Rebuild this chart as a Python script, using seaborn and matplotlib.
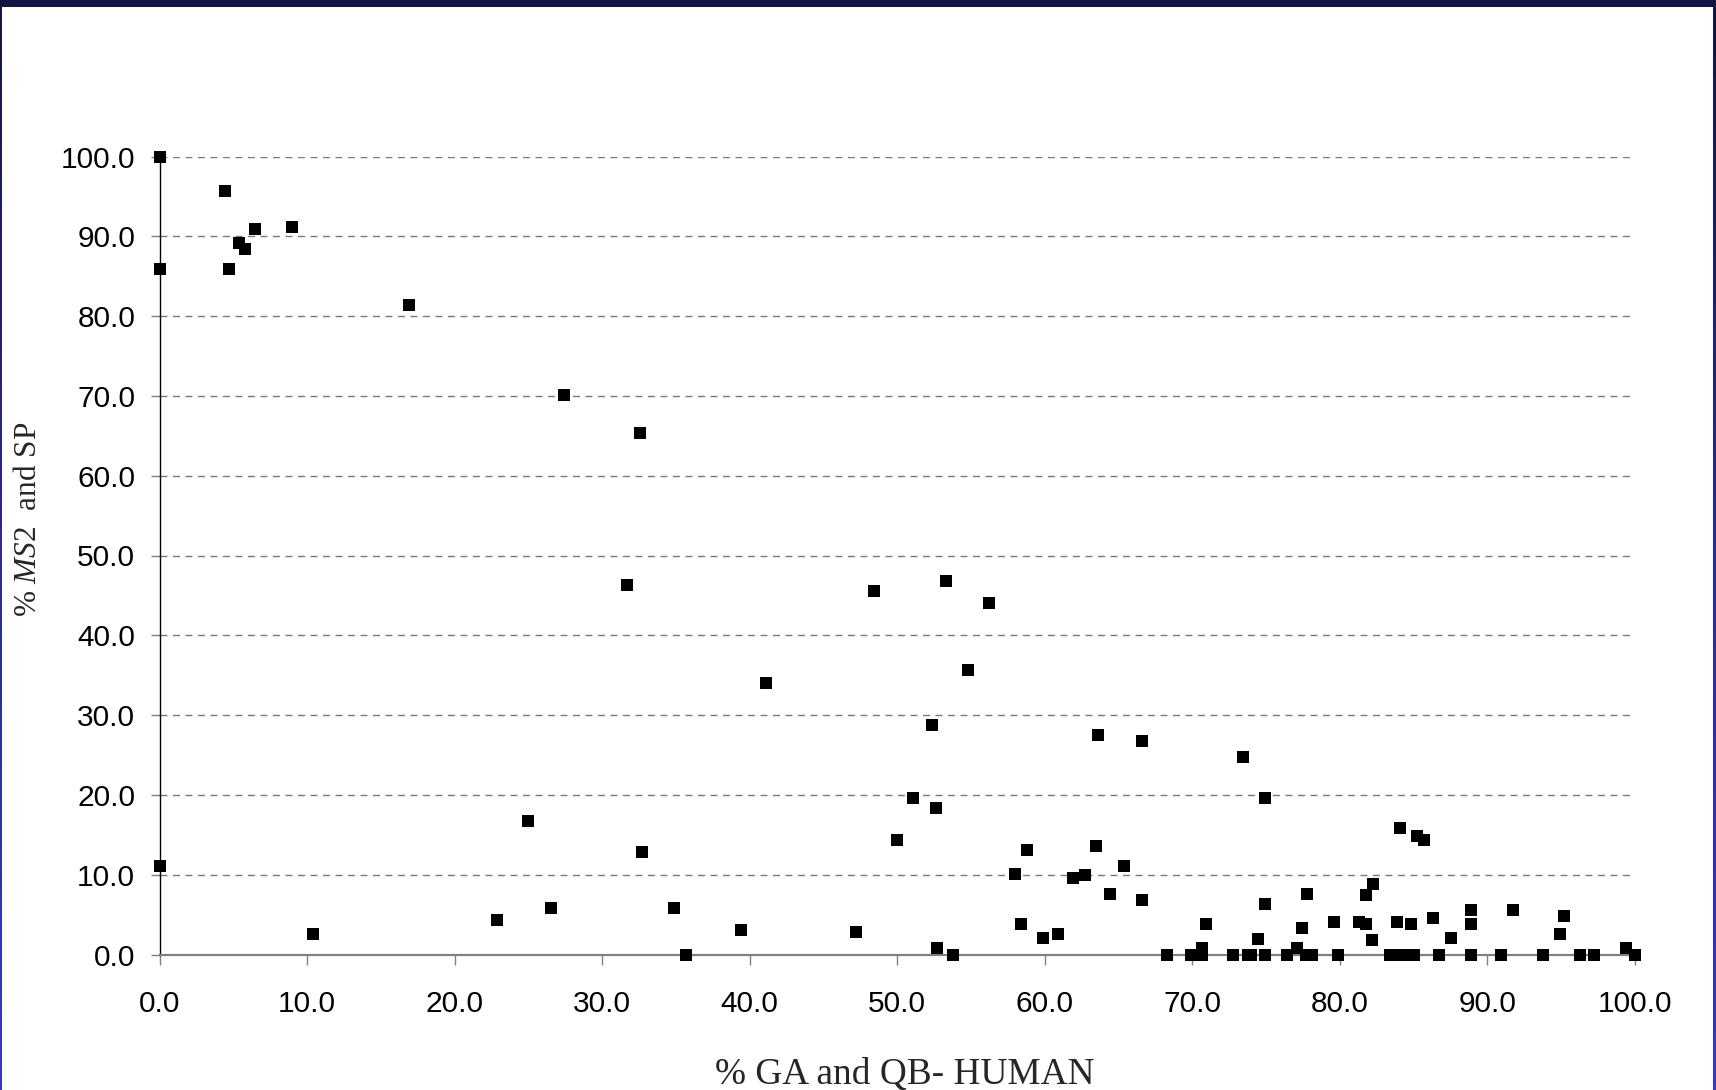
import numpy as np
import pandas as pd
import matplotlib
matplotlib.use("Agg")
import matplotlib.pyplot as plt
from matplotlib.patches import Rectangle
from matplotlib.ticker import FormatStrFormatter
from matplotlib.colors import LinearSegmentedColormap
import seaborn as sns

# ---- data ----
x_vals = [0, 0, 0, 4.45, 4.7, 5.4, 5.8, 6.5, 8.95, 10.4, 16.9, 22.9, 24.95, 26.5,
          27.4, 31.7, 32.55, 32.7, 34.85, 35.7, 39.4, 41.1, 47.2, 48.4, 50.0, 51.1,
          52.35, 52.6, 52.7, 53.3, 53.8, 54.8, 56.2, 57.95, 58.4, 58.8, 59.9, 60.9,
          61.9, 62.7, 63.45, 63.6, 64.45, 65.4, 66.6, 66.6, 68.3, 69.9, 70.65, 70.65,
          70.9, 72.75, 73.4, 73.8, 73.95, 74.45, 74.95, 74.95, 74.95, 76.4, 77.1, 77.4,
          77.7, 77.75, 78.1, 79.6, 79.9, 81.3, 81.8, 81.8, 82.2, 82.25, 83.4, 83.9,
          84.1, 84.2, 84.8, 85.0, 85.2, 85.7, 86.3, 86.7, 87.5, 88.9, 88.9, 88.9,
          90.95, 91.7, 93.75, 94.9, 95.2, 96.3, 97.2, 99.4, 100.0]
y_vals = [100, 85.9, 11.1, 95.7, 85.9, 89.2, 88.4, 90.9, 91.2, 2.6, 81.4, 4.3, 16.7, 5.8,
          70.1, 46.3, 65.3, 12.9, 5.8, 0, 3.1, 34.0, 2.8, 45.5, 14.4, 19.6,
          28.7, 18.4, 0.85, 46.8, 0, 35.7, 44.0, 10.1, 3.8, 13.1, 2.1, 2.6,
          9.6, 9.9, 13.6, 27.45, 7.6, 11.1, 26.7, 6.8, 0, 0, 0.8, 0,
          3.8, 0, 24.7, 0, 0, 2.0, 6.3, 19.6, 0, 0, 0.8, 3.3,
          0, 7.6, 0, 4.1, 0, 4.1, 3.8, 7.4, 1.8, 8.85, 0, 4.1,
          15.9, 0, 3.8, 0, 14.9, 14.4, 4.6, 0, 2.1, 5.6, 3.8, 0,
          0, 5.6, 0, 2.6, 4.8, 0, 0, 0.8, 0]
x_ticks = [0, 10, 20, 30, 40, 50, 60, 70, 80, 90, 100]
y_ticks = [0, 10, 20, 30, 40, 50, 60, 70, 80, 90, 100]
x_label = "% GA and QB- HUMAN"
y_label = r"% $MS2$  and SP"

df = pd.DataFrame({"x": x_vals, "y": y_vals})

sns.set_style("white")
plt.rcParams["font.family"] = ["Liberation Sans", "DejaVu Sans"]
plt.rcParams["mathtext.fontset"] = "custom"
plt.rcParams["mathtext.it"] = "Liberation Serif:italic"
plt.rcParams["mathtext.rm"] = "Liberation Serif"

W, H = 1716, 1090
fig = plt.figure(figsize=(W / 100, H / 100), dpi=100)
fig.patch.set_facecolor("white")

left, right = 159.5 / W, 1635 / W
bottom, top = 1 - 954.5 / H, 1 - 156.5 / H
ax = fig.add_axes([left, bottom, right - left, top - bottom])
ax.set_facecolor("white")

sns.scatterplot(data=df, x="x", y="y", ax=ax, marker="s", color="black",
                s=82, linewidth=0, clip_on=False, zorder=5)

ax.set_xlim(0, 100)
ax.set_ylim(0, 100)
ax.set_xticks(x_ticks)
ax.set_yticks(y_ticks)
ax.xaxis.set_major_formatter(FormatStrFormatter("%.1f"))
ax.yaxis.set_major_formatter(FormatStrFormatter("%.1f"))

ax.yaxis.grid(True, linestyle=(0, (5, 4)), color="#7a7a7a", linewidth=1.0)
ax.xaxis.grid(False)
ax.set_axisbelow(True)

for s in ["top", "right"]:
    ax.spines[s].set_visible(False)
ax.spines["left"].set_color("black")
ax.spines["left"].set_linewidth(1.0)
ax.spines["left"].set_zorder(3)
ax.spines["bottom"].set_color("#808080")
ax.spines["bottom"].set_linewidth(1.6)
ax.spines["bottom"].set_zorder(3)

ax.tick_params(axis="x", direction="out", length=7.2, width=1.0, color="#808080",
               pad=18, labelsize=21.5, labelcolor="black", bottom=True)
ax.tick_params(axis="y", direction="out", length=6.5, width=1.0, color="#808080",
               pad=11, labelsize=21.5, labelcolor="black", left=True)
ax.set_xlabel("")
ax.set_ylabel("")

fig.text(905 / W, 1 - 1084 / H, x_label, ha="center", va="baseline",
         fontsize=26.8, family=["Liberation Serif", "DejaVu Serif"])
fig.text(29 / W, 1 - 519 / H, y_label, ha="center", va="center", rotation=90,
         fontsize=22.5, family=["Liberation Serif", "DejaVu Serif"])

# ---- slide frame ----
fig.patches.append(Rectangle((0, 1 - 7 / H), 1, 7 / H, transform=fig.transFigure,
                             facecolor="#141446", edgecolor="none", zorder=10))
grad = np.linspace(0, 1, 256).reshape(-1, 1)
cmap = LinearSegmentedColormap.from_list("frame", ["#141446", "#2a2a9a", "#3535cc"])
for x0, w in [(0, 2), (W - 3, 3)]:
    fax = fig.add_axes([x0 / W, 0, w / W, 1 - 7 / H])
    fax.imshow(grad, aspect="auto", cmap=cmap, origin="upper")
    fax.set_axis_off()

fig.savefig("out.png", dpi=100, facecolor="white")
